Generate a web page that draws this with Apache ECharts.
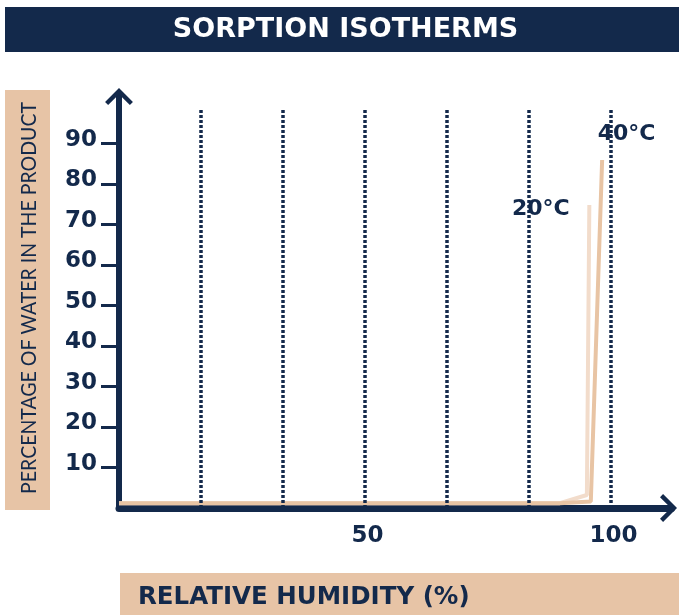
<!DOCTYPE html>
<html>
<head>
<meta charset="utf-8">
<script src="https://cdn.jsdelivr.net/npm/echarts@6/dist/echarts.min.js"></script>
<style>
html,body{margin:0;padding:0;background:#fff;}
#chart{width:679px;height:615px;}
</style>
</head>
<body>
<div id="chart"></div>
<script>
// ---- data ----
var titleText = 'SORPTION ISOTHERMS';
var xAxisName = 'RELATIVE HUMIDITY (%)';
var yAxisName = 'PERCENTAGE OF WATER IN THE PRODUCT';
var yTickValues = [10, 20, 30, 40, 50, 60, 70, 80, 90];
var xTickValues = [50, 100];
var gridXValues = [16.7, 33.3, 50, 66.7, 83.3, 100];
var series20Name = '20°C';
var series20X = [0, 89.6, 95.1, 95.6];
var series20Y = [1.2, 1.2, 3.2, 74.8];
var series40Name = '40°C';
var series40X = [0, 89.6, 95.9, 98.2];
var series40Y = [1.2, 1.2, 1.6, 85.9];

var NAVY = '#13294b';
var TAN = '#e7c4a6';
var FONT = '"DejaVu Sans", sans-serif';
var chevron = 'path://M50,0 L100,50 L89,61 L50,22 L11,61 L0,50 Z';

function pairs(xs, ys) { return xs.map(function (x, i) { return [x, ys[i]]; }); }

var chart = echarts.init(document.getElementById('chart'));
var option = {
  animation: false,
  backgroundColor: '#ffffff',
  graphic: [
    { type: 'rect', z: -1, shape: { x: 5, y: 7, width: 674, height: 45 }, style: { fill: NAVY } },
    { type: 'rect', z: -1, shape: { x: 5, y: 90, width: 45, height: 420 }, style: { fill: TAN } },
    { type: 'rect', z: -1, shape: { x: 120, y: 573, width: 559, height: 42 }, style: { fill: TAN } },
    { type: 'text', x: 345.5, y: 30,
      style: { text: titleText, fill: '#ffffff', font: 'bold 27px "DejaVu Sans"', align: 'center', verticalAlign: 'middle' } },
    { type: 'text', x: 29, y: 298, rotation: Math.PI / 2, scaleX: 0.887,
      style: { text: yAxisName, fill: NAVY, font: '22px "Lato"', align: 'center', verticalAlign: 'middle' } },
    { type: 'text', x: 138, y: 598,
      style: { text: xAxisName, fill: NAVY, font: 'bold 24.5px "DejaVu Sans"', align: 'left', verticalAlign: 'middle' } }
  ],
  grid: { left: 119, right: 7.5, top: 93.5, bottom: 107 },
  xAxis: {
    type: 'value', min: 0, max: 112.3, offset: 2,
    axisLine: { show: true, lineStyle: { color: NAVY, width: 7 }, symbol: ['none', chevron], symbolSize: [28, 17], symbolOffset: [0, -3] },
    axisTick: { show: false },
    splitLine: { show: false },
    axisLabel: { customValues: xTickValues, color: NAVY, fontFamily: FONT, fontWeight: 'bold', fontSize: 23, margin: 15, padding: [0, 0, 0, 5] }
  },
  yAxis: {
    type: 'value', min: 0, max: 102.3,
    axisLine: { show: true, lineStyle: { color: NAVY, width: 6 }, symbol: ['none', chevron], symbolSize: [28, 17], symbolOffset: [0, -3] },
    axisTick: { show: true, customValues: yTickValues, length: 18, lineStyle: { color: NAVY, width: 3 } },
    splitLine: { show: false },
    axisLabel: { customValues: yTickValues, color: NAVY, fontFamily: FONT, fontWeight: 'bold', fontSize: 23, margin: 22, verticalAlign: 'bottom', lineHeight: 7 }
  },
  series: [
    {
      type: 'line', data: [], silent: true, z: 5,
      markLine: {
        silent: true, symbol: 'none', label: { show: false },
        lineStyle: { color: NAVY, width: 3.5, type: [3, 2] },
        data: gridXValues.map(function (v) { return [{ coord: [v, 0] }, { coord: [v, 98.3] }]; })
      }
    },
    {
      name: series20Name, type: 'line', data: pairs(series20X, series20Y), showSymbol: false, z: 3,
      lineStyle: { color: '#f2dccb', width: 4 },
      endLabel: { show: true, formatter: '{a}', color: NAVY, fontFamily: FONT, fontWeight: 'bold', fontSize: 22, align: 'center', offset: [-56.5, 4] }
    },
    {
      name: series40Name, type: 'line', data: pairs(series40X, series40Y), showSymbol: false, z: 4,
      lineStyle: { color: '#e8c4a4', width: 4 },
      endLabel: { show: true, formatter: '{a}', color: NAVY, fontFamily: FONT, fontWeight: 'bold', fontSize: 22, align: 'center', offset: [16.5, -25.5] }
    }
  ]
};
chart.setOption(option);
</script>
</body>
</html>
